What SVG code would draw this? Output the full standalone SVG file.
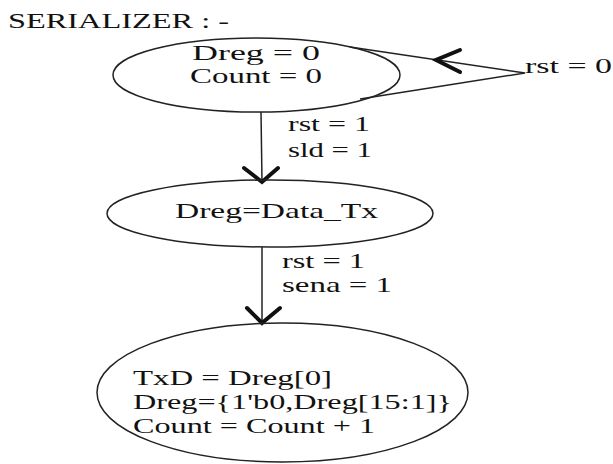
<svg xmlns="http://www.w3.org/2000/svg" width="613" height="464" viewBox="0 0 613 464">
<style>
text{font-family:"Liberation Serif","Times New Roman",serif;font-size:22px;fill:#111}
.st{fill:none;stroke:#222;stroke-width:1.5}
.ah{fill:none;stroke:#111;stroke-width:4;stroke-linecap:round;stroke-linejoin:miter}
</style>
<rect width="613" height="464" fill="#fff"/>
<text x="8" y="28" textLength="221" lengthAdjust="spacingAndGlyphs">SERIALIZER : -</text>
<g id="connectors">
<path class="st" d="M350,47 L525,73 L360,99"/>
<polyline class="ah" points="460,50 436,60 460,72"/>
<line class="st" x1="261" y1="112" x2="262" y2="182"/>
<polyline class="ah" points="244,168 262,182 278,168"/>
<line class="st" x1="262" y1="247" x2="262" y2="323"/>
<polyline class="ah" points="247,308 262,323 280,308"/>
<text x="525" y="73" textLength="87" lengthAdjust="spacingAndGlyphs">rst = 0</text>
<text x="288" y="131" textLength="82" lengthAdjust="spacingAndGlyphs">rst = 1</text>
<text x="288" y="157" textLength="84" lengthAdjust="spacingAndGlyphs">sld = 1</text>
<text x="282" y="268" textLength="83" lengthAdjust="spacingAndGlyphs">rst = 1</text>
<text x="282" y="292" textLength="110" lengthAdjust="spacingAndGlyphs">sena = 1</text>
</g>
<g id="idle">
<ellipse class="st" cx="256.5" cy="75" rx="143.5" ry="37"/>
<text x="192" y="60" textLength="128" lengthAdjust="spacingAndGlyphs">Dreg = 0</text>
<text x="190" y="83" textLength="132" lengthAdjust="spacingAndGlyphs">Count = 0</text>
</g>
<g id="load">
<ellipse class="st" cx="270" cy="213.5" rx="163" ry="33.5"/>
<text x="175" y="218" textLength="203" lengthAdjust="spacingAndGlyphs">Dreg=Data_Tx</text>
</g>
<g id="shift">
<ellipse class="st" cx="282.5" cy="392.5" rx="185.5" ry="69.5"/>
<text x="133" y="385" textLength="199" lengthAdjust="spacingAndGlyphs">TxD = Dreg[0]</text>
<text x="133" y="409" textLength="319" lengthAdjust="spacingAndGlyphs">Dreg={1'b0,Dreg[15:1]}</text>
<text x="133" y="433" textLength="242" lengthAdjust="spacingAndGlyphs">Count = Count + 1</text>
</g>
</svg>
